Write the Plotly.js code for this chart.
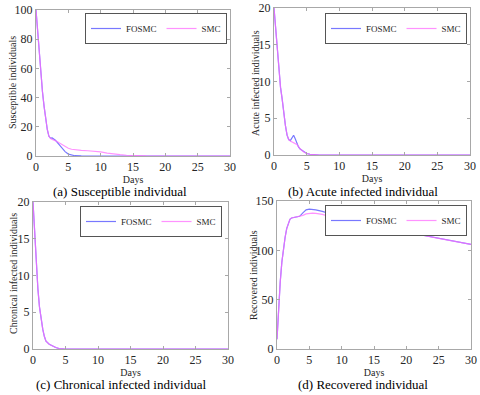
<!DOCTYPE html>
<html>
<head>
<meta charset="utf-8">
<script src="https://cdn.plot.ly/plotly-3.0.1.min.js"></script>
<style>
    html, body { margin: 0; padding: 0; background: #fff; }
    #chart { width: 480px; height: 395px; }
</style>
</head>
<body>
<div id="chart"></div>
<script>
// ============== 数据 ==============
const seriesNames = ['FOSMC', 'SMC'];

// (a) Susceptible
const daysS = [0, 0.25, 0.5, 0.75, 1, 1.25, 1.5, 1.75, 2, 2.25, 2.5, 2.75, 3, 3.25, 3.5, 3.75, 4, 4.5, 5, 5.5, 6, 7, 8, 9, 9.5, 10, 11, 12, 13, 14, 15, 17, 20, 25, 30];
const susFOSMC = [100, 85, 70, 56, 44, 34, 25, 18, 13.5, 12.2, 12.4, 11.8, 10.8, 9.5, 8.2, 7, 5.5, 3, 1.3, 0.5, 0.2, 0.05, 0, 0, 0, 0, 0, 0, 0, 0, 0, 0, 0, 0, 0];
const susSMC = [100, 85, 70, 56, 44, 34, 25, 18, 13.5, 12, 11.4, 11, 10.6, 9.9, 9.2, 8.5, 7.8, 6.4, 5.3, 4.6, 4.2, 3.9, 3.6, 3.3, 3.1, 2.8, 2, 1.3, 0.9, 0.5, 0.3, 0.1, 0, 0, 0];

// (b) Acute infected
const daysA = [0, 0.25, 0.5, 0.75, 1, 1.25, 1.5, 1.75, 2, 2.25, 2.5, 2.75, 3, 3.25, 3.5, 3.75, 4, 4.5, 5, 5.5, 6, 7, 8, 10, 15, 20, 25, 30];
const acuFOSMC = [20, 17, 14, 11.4, 9.2, 7.6, 5.6, 4, 2.7, 2.1, 1.95, 2.4, 2.68, 2.2, 1.5, 1.1, 0.8, 0.45, 0.2, 0.1, 0.04, 0, 0, 0, 0, 0, 0, 0];
const acuSMC = [20, 17, 14, 11.4, 9.2, 7.6, 5.6, 4, 2.7, 2.1, 1.9, 1.75, 1.65, 1.55, 1.45, 1.15, 0.85, 0.45, 0.2, 0.1, 0.04, 0, 0, 0, 0, 0, 0, 0];

// (c) Chronical infected
const daysC = [0, 0.25, 0.5, 0.75, 1, 1.25, 1.5, 1.75, 2, 2.5, 3, 3.5, 4, 4.5, 5, 6, 10, 15, 20, 25, 30];
const chrFOSMC = [20, 15.5, 11.5, 8.2, 5.7, 4, 2.7, 1.7, 1.05, 0.65, 0.4, 0.2, 0.07, 0.02, 0, 0, 0, 0, 0, 0, 0];
const chrSMC = [20, 15.5, 11.5, 8.2, 5.7, 4, 2.7, 1.7, 1.05, 0.65, 0.4, 0.2, 0.07, 0.02, 0, 0, 0, 0, 0, 0, 0];

// (d) Recovered
const daysR = [0, 0.1, 0.25, 0.5, 0.75, 1, 1.25, 1.5, 1.75, 2, 2.25, 2.5, 3, 3.5, 4, 4.5, 5, 5.5, 6, 7, 8, 9, 10, 11, 12, 13, 14, 15, 17.5, 20, 22.5, 25, 27.5, 30];
const recFOSMC = [10, 25, 45, 68, 88, 103, 113, 122, 128, 131.5, 132.8, 133.2, 133.4, 134.5, 138, 141, 141.8, 141.5, 141, 139.5, 137.5, 135, 133.5, 131.5, 129.8, 128, 126.5, 125, 121.6, 118.5, 115.3, 112.2, 109, 106];
const recSMC = [10, 25, 45, 68, 88, 103, 113, 122, 128, 131.5, 132.8, 133.2, 133.4, 134, 135.5, 137, 137.6, 137.8, 137.5, 136.5, 134.5, 132.2, 131.6, 130.5, 129.3, 127.8, 126.5, 125, 121.6, 118.5, 115.3, 112.2, 109, 106];

const yTitles = ['Susceptible individuals', 'Acute infected individuals', 'Chronical infected individuals', 'Recovered individuals'];
const captions = ['(a) Susceptible individual', '(b) Acute infected individual', '(c) Chronical infected individual', '(d) Recovered individual'];
const yRanges = [[0, 100], [0, 20], [0, 20], [0, 150]];
const yDticks = [20, 5, 5, 50];

document.addEventListener('DOMContentLoaded', () => {
    const W = 480, H = 395;
    const FONT = "'Liberation Serif', 'Times New Roman', serif";
    const colors = ['rgb(120,120,255)', 'rgba(255,110,255,0.75)'];

    // 每个子图的绘图区（像素）
    const boxes = [
        { l: 36, r: 230, t: 10, b: 156 },
        { l: 274, r: 470, t: 8, b: 155 },
        { l: 33, r: 228, t: 202, b: 349 },
        { l: 277, r: 471, t: 201, b: 349 }
    ];
    const legendPos = [
        { x: 227, y: 13 },
        { x: 467, y: 13 },
        { x: 222, y: 206 },
        { x: 467, y: 205 }
    ];
    const yTitlePos = [
        { x: 12, y: 83 },
        { x: 255, y: 83 },
        { x: 13, y: 274 },
        { x: 253, y: 275 }
    ];
    const captionPos = [
        { x: 120, y: 191 },
        { x: 363, y: 191 },
        { x: 121, y: 384 },
        { x: 363, y: 384 }
    ];

    const panels = [
        { x: daysS, ys: [susFOSMC, susSMC] },
        { x: daysA, ys: [acuFOSMC, acuSMC] },
        { x: daysC, ys: [chrFOSMC, chrSMC] },
        { x: daysR, ys: [recFOSMC, recSMC] }
    ];

    const traces = [];
    const layout = {
        width: W,
        height: H,
        margin: { l: 0, r: 0, t: 0, b: 0 },
        paper_bgcolor: '#fff',
        plot_bgcolor: '#fff',
        font: { family: FONT, size: 12, color: '#262626' },
        showlegend: true,
        annotations: []
    };

    panels.forEach((p, i) => {
        const n = i === 0 ? '' : String(i + 1);
        const legendId = 'legend' + n;
        p.ys.forEach((y, k) => {
            traces.push({
                x: p.x,
                y: y,
                type: 'scatter',
                mode: 'lines',
                name: seriesNames[k],
                xaxis: 'x' + n,
                yaxis: 'y' + n,
                legend: legendId,
                line: { color: colors[k], width: 1.2 }
            });
        });

        const b = boxes[i];
        const axisCommon = {
            showline: true,
            mirror: 'ticks',
            linecolor: '#a8a8a8',
            linewidth: 1,
            ticks: 'inside',
            ticklen: 3,
            tickcolor: '#a8a8a8',
            showgrid: false,
            zeroline: false,
            tickfont: { family: FONT, size: 12, color: '#262626' }
        };
        layout['xaxis' + n] = Object.assign({}, axisCommon, {
            domain: [b.l / W, b.r / W],
            anchor: 'y' + n,
            range: [0, 30],
            dtick: 5,
            title: { text: 'Days', font: { family: FONT, size: 10, color: '#262626' }, standoff: 0 }
        });
        layout['yaxis' + n] = Object.assign({}, axisCommon, {
            domain: [1 - b.b / H, 1 - b.t / H],
            anchor: 'x' + n,
            range: yRanges[i],
            dtick: yDticks[i]
        });

        layout[legendId] = {
            orientation: 'h',
            x: legendPos[i].x / W,
            y: 1 - legendPos[i].y / H,
            xanchor: 'right',
            yanchor: 'top',
            bgcolor: '#fff',
            bordercolor: '#555',
            borderwidth: 1,
            font: { family: FONT, size: 9, color: '#262626' }
        };

        // 纵轴标题
        layout.annotations.push({
            text: yTitles[i],
            xref: 'paper', yref: 'paper',
            x: yTitlePos[i].x / W,
            y: 1 - yTitlePos[i].y / H,
            xanchor: 'center',
            yanchor: 'middle',
            textangle: -90,
            showarrow: false,
            font: { family: FONT, size: 10, color: '#262626' }
        });
        // 子图说明
        layout.annotations.push({
            text: captions[i],
            xref: 'paper', yref: 'paper',
            x: captionPos[i].x / W,
            y: 1 - captionPos[i].y / H,
            xanchor: 'center',
            yanchor: 'middle',
            showarrow: false,
            font: { family: FONT, size: 13, color: '#000' }
        });
    });

    Plotly.newPlot('chart', traces, layout, { displayModeBar: false, staticPlot: true });
});
</script>
</body>
</html>
